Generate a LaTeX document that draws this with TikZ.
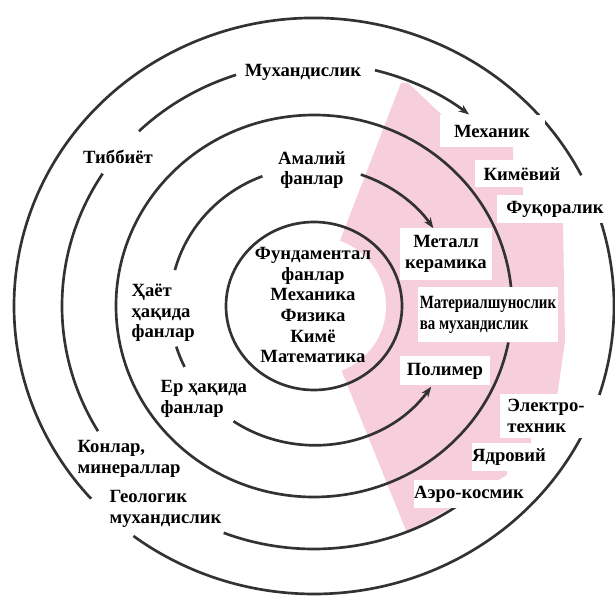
\documentclass[tikz,border=0pt]{standalone}
\usepackage{fontspec}
\setmainfont{Liberation Serif}
\usetikzlibrary{arrows.meta}
\newdimen\pxu \pxu=0.75pt
\definecolor{rosa}{RGB}{246,206,220}
\definecolor{ink}{RGB}{50,50,50}

\begin{document}
\begin{tikzpicture}[
  x=0.75pt, y=0.75pt,
  font=\fontsize{14}{15.5}\selectfont\bfseries,
  ring/.style={draw=ink, line width=2pt},
  arr/.style={ring, -{Stealth[length=8pt,width=6pt]}},
  lbl/.style={align=center, inner sep=1pt},
  tag/.style={lbl, fill=white, inner sep=0pt}
]
\useasboundingbox (0,0) rectangle (615,-598);
\coordinate (c) at (314,-306);

% pink band on the right
\fill[rosa] (401,-83) -- (408,-83) -- (442,-115) -- (513,-147) -- (513,-162)
  -- (523,-185) -- (523,-197) -- (563,-222) -- (565,-342) -- (557,-397)
  -- (531,-438) -- (531,-445) -- (507,-470) -- (507,-475) -- (407,-533)
  -- (315,-305) -- cycle;
\fill[white] (c) ellipse [x radius=72, y radius=70];

% rings
\draw[ring] (c) ellipse [x radius=88, y radius=84];
\draw[arr] (c) ++(71:144 and 139) arc[start angle=71, end angle=34, x radius=144, y radius=139];
\draw[ring] (c) ++(111:144 and 139) arc[start angle=111, end angle=165, x radius=144, y radius=139];
\draw[ring] (c) ++(197:144 and 139) arc[start angle=197, end angle=206, x radius=144, y radius=139];
\draw[arr] (c) ++(236:144 and 139) arc[start angle=236, end angle=324.5, x radius=144, y radius=139];
\draw[ring] (c) ++(5:198 and 191) arc[start angle=5, end angle=349, x radius=198, y radius=191];
\draw[arr] (c) ++(76:252 and 243) arc[start angle=76, end angle=52, x radius=252, y radius=243];
\draw[ring] (c) ++(108:252 and 243) arc[start angle=108, end angle=134, x radius=252, y radius=243];
\draw[ring] (c) ++(147:252 and 243) arc[start angle=147, end angle=211, x radius=252, y radius=243];
\draw[ring] (c) ++(249:252 and 243) arc[start angle=249, end angle=306, x radius=252, y radius=243];
\draw[ring] (c) ++(27:300 and 288) arc[start angle=27, end angle=222, x radius=300, y radius=288];
\draw[ring] (c) ++(233:300 and 288) arc[start angle=233, end angle=333, x radius=300, y radius=288];
\draw[ring] (c) ++(342:300 and 288) arc[start angle=342, end angle=377, x radius=300, y radius=288];

% labels
\node[lbl] (muh) at (303,-72) {Мухандислик};
\node[lbl] (tib) at (118,-157) {Тиббиёт};
\node[lbl] (amal) at (312,-170) {Амалий\\фанлар};
\node[lbl] (fund) at (313,-305) {Фундаментал\\фанлар\\Механика\\Физика\\Кимё\\Математика};
\node[lbl, anchor=west, align=left] (hayot) at (130,-313) {Ҳаёт\\ҳақида\\фанлар};
\node[lbl, anchor=west, align=left] (yer) at (159,-399) {Ер ҳақида\\фанлар};
\node[lbl, anchor=west, align=left] (kon) at (76,-459) {Конлар,\\минераллар};
\node[lbl, anchor=west, align=left] (geo) at (108,-509) {Геологик\\мухандислик};

\node[tag, minimum width=105\pxu, minimum height=32\pxu] (mech) at (492,-131) {Механик};
\node[tag, minimum width=95\pxu, minimum height=27\pxu] (chem) at (522,-174) {Кимёвий};
\node[tag, minimum width=116\pxu, minimum height=28\pxu] (civ) at (555,-209) {Фуқоралик};
\node[tag, minimum width=92\pxu, minimum height=52\pxu] (metal) at (446,-254) {Металл\\керамика};
\node[tag, align=left, minimum width=140\pxu, minimum height=55\pxu,
  font=\fontsize{14}{15.5}\selectfont\bfseries\addfontfeatures{FakeStretch=0.8}] (matsci) at (488,-315) {Материалшунослик\\ва мухандислик};
\node[tag, minimum width=90\pxu, minimum height=29\pxu] (poly) at (445,-371) {Полимер};
\node[tag, align=left, minimum width=92\pxu, minimum height=44\pxu] (elec) at (546,-416) {Электро-\\техник};
\node[tag, minimum width=75\pxu, minimum height=28\pxu] (nuc) at (509,-457) {Ядровий};
\node[tag, minimum width=102\pxu, minimum height=28\pxu] (aero) at (469,-494) {Аэро-космик};
\end{tikzpicture}
\end{document}
